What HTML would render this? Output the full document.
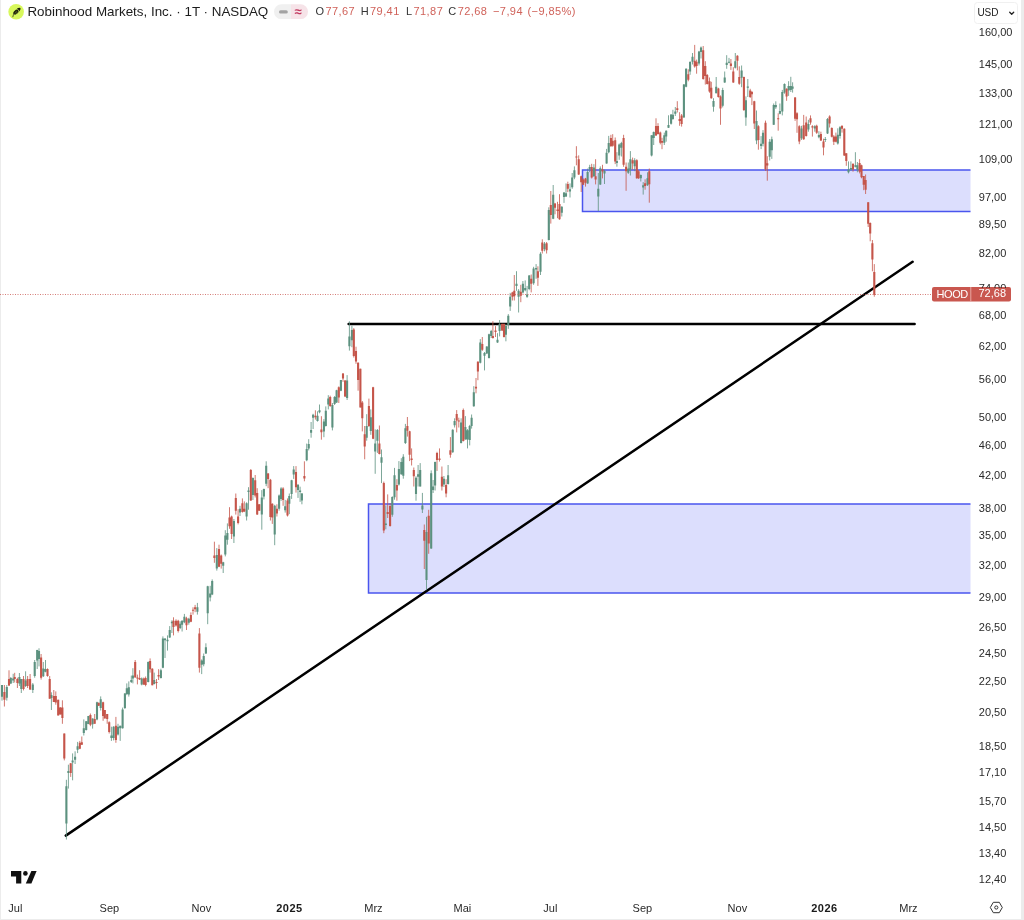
<!DOCTYPE html>
<html lang="de">
<head>
<meta charset="utf-8">
<title>Robinhood Markets, Inc. · 1T · NASDAQ</title>
<style>
html,body{margin:0;padding:0;background:#fff;}
body{width:1024px;height:920px;position:relative;overflow:hidden;font-family:"Liberation Sans",sans-serif;color:#1a1a1a;}
.frame{position:absolute;background:#ececec;}
.t{position:absolute;white-space:nowrap;line-height:1;}
.title{font-size:13.4px;left:27.4px;top:5.4px;color:#1c1c1c;}
.ohlc{font-size:11px;top:6.4px;color:#333;letter-spacing:0.42px;}
.red{color:#d0625a;}
.pl{font-size:11px;color:#2a2a2a;left:978.8px;}
.tl{font-size:11px;color:#2a2a2a;top:903.3px;transform:translateX(-50%);}
.tl.b{font-weight:bold;color:#1a1a1a;letter-spacing:0.45px;}
svg{position:absolute;left:0;top:0;}
</style>
</head>
<body>

<div class="frame" style="left:0;top:0;width:1px;height:920px"></div>
<div class="frame" style="left:1021.4px;top:0;width:2.6px;height:920px"></div>
<div class="frame" style="left:0;top:918.6px;width:1024px;height:1.4px"></div>
<svg width="1024" height="920" viewBox="0 0 1024 920">
<clipPath id="pane"><rect x="0" y="0" width="970.5" height="895"/></clipPath>
<g clip-path="url(#pane)">
<rect x="582.5" y="170" width="420" height="41.5" fill="rgba(70,82,245,0.19)" stroke="#4a55ee" stroke-width="1.5"/>
<rect x="368.5" y="504" width="640" height="89" fill="rgba(70,82,245,0.19)" stroke="#4a55ee" stroke-width="1.5"/>
</g>
<line x1="348.6" y1="324" x2="914.6" y2="324" stroke="#000" stroke-width="2.5" stroke-linecap="round"/>
<line x1="65.8" y1="835.6" x2="912.6" y2="261.8" stroke="#000" stroke-width="2.5" stroke-linecap="round"/>
<g fill="none">
<path d="M2.0 685.0V700.6M6.8 685.0V700.6M10.8 677.0V684.0M13.2 673.8V683.0M19.4 673.0V686.0M21.3 679.0V693.0M25.6 671.3V687.0M32.8 683.0V693.0M34.7 660.0V677.7M37.2 649.8V669.0M39.0 648.3V666.4M43.3 662.0V677.0M45.5 660.0V672.3M51.4 692.3V710.0M66.4 779.8V839.5M68.4 764.7V788.6M72.6 753.4V780.3M75.1 751.3V764.0M77.6 741.9V753.1M83.8 719.4V735.5M86.2 721.0V730.5M88.4 715.9V724.2M92.6 718.4V728.6M97.0 701.7V720.3M100.7 696.4V710.5M111.4 726.7V740.9M113.6 726.2V740.4M118.0 723.8V735.5M120.2 725.7V740.9M122.6 707.6V728.6M124.9 693.0V709.0M126.8 683.4V695.1M128.8 681.4V696.6M131.3 675.6V683.0M132.9 668.2V683.4M141.7 677.5V685.3M148.2 661.4V682.4M154.2 672.6V684.4M160.9 668.7V678.5M162.9 636.4V668.2M165.0 638.4V658.0M167.5 635.4V650.6M169.7 626.1V637.9M171.9 620.3V633.0M180.2 621.3V629.1M182.1 620.3V631.5M184.4 613.9V623.2M188.8 617.8V624.7M197.4 602.9V614.6M201.7 659.4V674.1M203.7 653.5V666.3M205.9 643.3V654.0M207.7 585.8V624.2M210.2 585.8V601.4M212.2 579.4V595.1M216.8 548.1V570.6M223.2 561.8V573.0M225.3 530.2V556.4M227.4 523.4V544.7M233.9 519.0V543.0M240.0 505.8V516.0M246.6 502.3V520.5M248.5 487.2V509.7M252.9 477.4V500.0M261.8 490.1V529.7M263.9 488.6V499.4M266.2 461.3V486.2M274.7 504.8V545.2M279.1 494.5V510.7M281.1 487.2V500.9M285.2 499.9V512.6M289.3 493.5V514.1M291.6 479.8V498.9M293.7 466.1V478.9M298.0 484.2V497.9M300.1 486.7V501.9M301.9 493.0V504.3M306.7 443.6V461.2M308.7 439.2V450.4M311.1 422.0V437.7M313.1 413.8V429.0M317.5 411.3V421.6M319.5 404.5V413.3M323.9 419.1V437.2M325.8 406.4V426.5M328.3 395.2V409.4M332.4 403.0V430.4M334.6 396.1V405.0M336.6 389.8V403.0M340.9 380.0V391.2M347.1 375.1V400.0M349.4 321.3V350.6M351.9 325.7V347.2M366.7 414.2V440.7M370.8 409.4V434.8M375.2 429.4V473.8M377.4 429.0V452.9M381.5 449.5V483.1M385.8 505.4V529.3M392.3 496.3V516.8M394.5 467.9V499.7M398.9 461.1V485.6M401.3 458.2V474.8M403.3 454.2V478.7M405.4 423.9V444.0M416.0 476.3V500.7M418.1 465.0V486.5M420.2 463.1V486.5M422.4 492.9V513.0M426.5 516.8V590.2M431.2 470.4V548.9M433.1 480.0V493.0M435.1 461.6V490.5M443.9 476.0V487.0M448.1 465.0V484.6M452.7 429.3V452.8M454.6 418.3V427.5M461.1 418.3V443.5M465.4 416.1V439.6M467.5 429.1V448.4M469.7 424.9V445.4M471.6 414.5V428.6M473.8 386.2V406.8M480.3 339.1V363.4M484.5 352.0V370.4M486.8 346.2V354.1M489.0 333.7V358.5M491.2 329.9V338.0M497.5 333.2V342.9M499.6 320.1V336.4M505.9 323.9V341.3M508.3 314.1V328.8M510.2 292.9V310.9M516.5 271.2V290.8M518.6 289.1V312.5M522.9 281.0V293.5M525.2 280.4V291.3M527.1 285.9V297.8M529.2 275.0V290.2M533.6 266.8V284.8M536.1 264.1V278.8M540.5 252.2V275.0M544.5 242.0V251.3M548.8 207.3V240.4M553.2 185.0V219.2M561.8 206.2V216.5M564.0 192.1V202.9M566.0 183.4V197.0M570.0 183.4V197.5M572.2 173.0V188.8M574.4 166.4V179.2M587.6 168.6V183.8M589.7 164.8V172.2M593.9 164.2V176.8M598.3 173.0V211.1M600.3 166.4V185.0M604.5 169.7V184.0M606.6 148.9V163.7M608.7 135.9V153.3M616.9 152.2V166.7M619.2 143.5V159.8M621.4 141.8V156.5M628.3 162.5V173.9M630.4 151.1V175.5M634.7 158.2V171.2M640.8 174.5V181.5M643.2 182.1V194.6M647.5 172.3V185.9M651.6 135.2V156.4M653.7 131.5V145.0M664.3 132.6V145.0M666.2 130.3V141.7M668.5 115.3V128.0M671.1 114.2V124.6M672.9 109.8V119.8M675.3 107.0V116.0M683.9 84.0V117.7M686.1 68.3V87.3M690.1 61.2V74.8M692.5 53.0V64.5M699.0 50.9V65.5M701.0 46.5V58.5M713.5 98.2V111.7M716.2 77.0V93.3M722.7 87.8V107.4M724.7 71.5V82.9M726.7 55.2V68.8M729.0 57.9V63.4M735.3 53.0V68.5M741.6 65.5V87.2M745.9 96.4V125.8M747.8 79.0V97.0M756.5 110.5V144.2M761.1 136.1V149.1M763.0 130.1V146.4M769.7 139.0V160.5M771.8 136.6V158.9M773.7 103.5V125.0M775.8 101.3V108.9M779.9 103.5V114.3M782.3 89.9V115.4M784.5 83.4V93.7M788.6 81.2V95.9M790.8 76.8V92.0M792.6 82.3V92.6M801.5 125.8V139.9M808.4 119.8V131.7M814.8 125.2V131.7M818.9 131.2V138.3M825.3 137.0V142.0M827.5 118.0V134.0M837.8 128.3V144.6M840.0 126.1V138.6M848.5 161.4V173.4M850.9 161.4V170.7M855.4 152.2V167.4M857.4 162.0V172.3" stroke="#5c917f" stroke-width="0.8"/>
<path d="M4.4 685.0V706.5M9.0 670.3V686.0M14.7 672.8V682.5M17.4 677.7V688.0M23.5 676.0V690.4M27.6 676.0V688.0M30.1 674.0V690.0M41.1 654.0V679.6M47.5 668.4V676.7M49.7 676.0V698.7M53.8 690.0V702.0M55.8 691.4V704.7M58.2 699.7V715.4M60.3 707.0V714.5M62.4 700.3V723.8M64.3 733.5V760.4M70.7 763.2V776.9M79.8 740.9V749.2M81.8 736.5V744.8M90.4 713.5V726.2M94.7 714.0V723.8M98.7 702.7V706.0M103.1 701.7V720.8M104.8 710.0V718.4M107.2 714.0V723.8M109.2 721.3V733.5M115.9 716.9V742.8M135.2 660.0V677.5M137.4 674.6V684.4M139.6 670.2V680.0M143.8 677.5V685.0M145.6 676.5V686.3M150.1 658.4V672.6M152.3 668.2V685.3M156.5 679.0V688.8M158.6 669.2V680.0M173.5 617.3V635.4M176.0 619.3V626.6M178.2 619.8V632.5M186.5 616.8V630.0M190.9 612.4V622.2M193.0 607.3V614.6M195.1 604.9V612.2M199.4 628.1V672.6M214.4 541.7V562.8M219.0 544.7V567.2M221.2 554.5V568.6M229.5 507.2V528.8M231.6 515.6V539.0M235.8 493.5V514.6M238.1 509.2V524.4M242.4 498.4V512.6M244.3 501.4V512.1M250.8 469.0V500.9M255.2 475.0V497.5M257.2 488.2V515.0M259.3 504.3V510.7M268.1 473.0V488.2M270.4 478.9V520.5M272.3 503.3V523.9M276.9 504.3V516.5M283.1 487.2V505.8M287.5 498.4V516.5M296.0 466.1V492.6M304.4 461.3V481.3M315.4 410.3V419.6M321.4 416.2V439.7M330.2 395.7V406.9M338.8 386.4V403.0M343.0 373.1V381.9M345.1 380.0V397.1M353.8 328.1V357.5M356.0 346.7V363.8M358.1 362.3V390.7M360.4 368.7V407.4M362.3 401.0V431.4M364.7 426.0V459.3M368.9 398.6V427.0M373.1 386.8V439.2M379.4 425.5V454.4M383.8 481.6V533.2M387.7 494.4V518.0M390.1 503.0V526.6M396.9 479.2V500.7M407.4 417.0V436.6M409.6 430.8V461.1M411.6 448.4V465.5M413.8 467.5V486.5M424.3 524.5V569.0M428.7 509.8V553.8M437.0 451.8V470.9M439.5 448.4V461.6M441.9 466.5V490.5M446.1 479.2V497.3M450.4 437.1V457.7M456.7 410.1V432.4M458.8 417.7V427.5M463.3 408.5V441.5M476.0 378.0V393.3M477.9 361.2V380.2M482.3 337.0V350.9M492.9 321.2V338.6M495.5 326.1V337.0M502.1 323.4V331.0M504.0 323.4V337.5M512.4 291.8V300.5M514.3 275.0V300.5M520.8 284.8V302.2M531.2 274.5V292.4M537.9 266.3V285.9M542.3 239.3V253.5M546.6 242.0V253.5M550.8 191.0V223.6M555.0 202.9V214.3M557.5 201.8V218.2M559.5 194.2V219.8M567.8 181.7V192.1M576.4 146.2V165.3M578.7 155.4V175.0M581.2 175.6V192.0M583.2 178.3V185.0M585.5 177.9V186.6M591.7 163.8V178.5M595.6 159.2V184.4M602.5 164.8V178.4M610.9 134.8V146.7M612.7 134.2V146.7M615.2 137.5V164.1M623.6 134.8V166.8M626.1 162.5V190.8M632.6 157.6V169.6M636.8 159.2V178.8M638.6 170.0V179.0M645.1 179.3V189.7M649.3 168.5V202.7M656.0 118.3V135.9M658.0 123.2V134.6M660.3 131.6V144.4M662.0 137.8V149.2M677.3 101.2V112.5M679.6 112.2V125.8M681.6 114.0V126.6M688.3 69.3V81.3M694.7 44.9V67.7M696.6 59.6V73.7M703.2 46.0V79.7M705.3 61.2V84.6M707.2 74.0V84.5M709.5 77.5V92.7M711.3 81.8V98.7M718.4 87.8V97.6M720.5 95.4V124.8M730.9 59.0V69.9M733.3 67.2V82.9M737.4 55.2V70.4M739.3 66.3V84.8M743.9 76.6V111.0M750.2 88.8V98.0M751.9 91.0V105.1M754.3 100.8V129.0M758.4 125.2V149.7M765.5 120.6V170.9M767.3 156.2V180.7M778.2 113.3V130.7M786.6 88.3V100.8M795.1 97.0V120.9M797.0 112.2V132.8M799.3 125.2V144.2M803.7 114.9V139.9M806.2 116.5V136.6M810.5 115.4V124.7M812.4 125.2V136.6M816.7 124.7V133.9M820.9 131.7V141.0M823.5 138.7V155.3M829.6 115.3V127.5M831.8 127.3V137.4M833.8 135.1V145.0M835.9 132.6V142.4M842.0 125.0V132.6M844.3 128.3V156.0M846.3 153.3V165.8M853.0 163.0V171.7M859.6 159.2V173.4M861.5 164.7V178.3M863.7 176.1V190.2M865.6 174.5V194.0M868.2 202.2V227.0M870.2 222.4V241.3M872.4 240.0V271.3M874.3 264.1V296.7" stroke="#c5554a" stroke-width="0.8"/>
<path d="M2.0 685.0V696.7M6.8 687.0V697.7M10.8 678.0V683.5M13.2 678.6V680.6M19.4 677.0V683.5M21.3 679.0V689.0M25.6 680.6V686.0M32.8 684.5V690.0M34.7 662.0V676.0M37.2 650.0V660.5M39.0 651.0V659.0M43.3 668.4V676.2M45.5 668.9V671.8M51.4 695.0V698.0M66.4 786.2V823.4M68.4 771.0V773.0M72.6 760.5V762.5M75.1 756.8V759.8M77.6 746.3V749.7M83.8 728.2V733.0M86.2 721.3V730.1M88.4 716.0V724.0M92.6 718.4V724.2M97.0 702.2V719.4M100.7 699.3V708.1M111.4 735.5V738.0M113.6 726.7V738.0M118.0 726.7V734.5M120.2 725.7V728.2M122.6 709.6V728.2M124.9 693.4V708.1M126.8 688.3V694.1M128.8 687.3V694.6M131.3 680.0V682.0M132.9 675.6V678.5M141.7 678.5V684.4M148.2 661.9V681.9M154.2 680.0V683.9M160.9 670.2V678.0M162.9 638.4V667.7M165.0 638.4V640.3M167.5 639.8V641.3M169.7 630.0V637.4M171.9 621.7V623.2M180.2 623.7V628.1M182.1 620.8V624.7M184.4 616.8V622.2M188.8 618.8V622.7M197.4 607.3V611.7M201.7 660.4V664.8M203.7 656.0V664.3M205.9 647.2V653.5M207.7 586.3V613.2M210.2 593.6V597.5M212.2 580.9V594.6M216.8 555.0V568.6M223.2 562.3V565.7M225.3 535.4V554.5M227.4 533.0V539.8M233.9 521.0V536.6M240.0 508.7V512.6M246.6 503.3V516.5M248.5 490.6V492.1M252.9 477.9V495.0M261.8 497.5V514.6M263.9 489.1V496.5M266.2 465.7V483.8M274.7 505.8V534.6M279.1 495.5V508.7M281.1 488.6V498.9M285.2 506.3V510.2M289.3 496.0V503.8M291.6 480.3V494.0M293.7 469.6V474.5M298.0 484.7V490.1M300.1 490.6V492.1M301.9 493.5V500.4M306.7 449.0V460.2M308.7 444.0V448.5M311.1 430.0V432.8M313.1 414.7V417.7M317.5 415.7V421.0M319.5 410.3V412.3M323.9 421.6V431.4M325.8 410.8V426.0M328.3 398.6V404.5M332.4 405.0V427.5M334.6 397.0V404.0M336.6 390.3V402.5M340.9 380.0V390.7M347.1 380.4V398.0M349.4 336.4V346.2M351.9 330.0V340.3M366.7 426.0V437.7M370.8 417.2V430.9M375.2 443.6V451.4M377.4 430.0V440.7M381.5 457.3V462.7M385.8 523.4V525.0M392.3 497.0V514.7M394.5 475.3V497.3M398.9 468.9V484.6M401.3 462.0V474.3M403.3 456.7V475.8M405.4 428.3V443.0M416.0 477.7V493.9M418.1 474.3V476.8M420.2 469.9V486.5M422.4 505.6V509.4M426.5 532.0V579.9M431.2 473.3V548.4M433.1 486.5V490.0M435.1 462.0V485.6M443.9 478.7V484.6M448.1 475.3V484.1M452.7 429.8V452.3M454.6 421.0V425.3M461.1 422.6V443.0M465.4 427.0V439.6M467.5 430.3V439.6M469.7 426.0V440.0M471.6 417.7V425.9M473.8 392.2V406.3M480.3 342.4V362.8M484.5 353.0V355.8M486.8 346.5V353.6M489.0 334.2V358.0M491.2 331.0V335.9M497.5 339.7V342.4M499.6 323.9V331.0M505.9 326.0V334.8M508.3 315.8V325.0M510.2 296.7V306.5M516.5 283.7V285.9M518.6 290.8V296.7M522.9 283.7V292.4M525.2 288.0V290.2M527.1 294.6V296.7M529.2 275.5V289.1M533.6 268.5V283.2M536.1 267.9V269.6M540.5 253.8V271.7M544.5 243.7V249.1M548.8 210.0V239.9M553.2 194.8V218.7M561.8 206.7V212.7M564.0 192.6V197.0M566.0 193.2V196.4M570.0 189.3V191.5M572.2 177.4V187.2M574.4 170.3V177.4M587.6 172.0V183.4M589.7 167.0V169.2M593.9 167.6V176.3M598.3 188.8V196.4M600.3 168.2V184.5M604.5 170.9V173.6M606.6 152.7V163.6M608.7 142.9V152.2M616.9 160.9V163.0M619.2 144.6V155.4M621.4 142.9V147.8M628.3 168.5V172.8M630.4 159.2V169.6M634.7 160.3V166.3M640.8 175.0V178.3M643.2 185.3V187.5M647.5 178.3V185.3M651.6 135.3V155.4M653.7 132.0V138.0M664.3 135.2V142.7M666.2 130.7V136.5M668.5 125.1V127.7M671.1 114.5V123.7M672.9 114.7V118.9M675.3 111.4V113.7M683.9 84.5V117.5M686.1 68.8V86.8M690.1 62.0V71.5M692.5 56.8V61.7M699.0 51.4V63.4M701.0 47.6V52.0M713.5 100.9V106.8M716.2 86.7V93.3M722.7 90.0V105.8M724.7 77.5V82.4M726.7 62.8V65.0M729.0 61.7V62.8M735.3 61.2V67.7M741.6 70.6V77.7M745.9 100.2V117.6M747.8 86.6V87.7M756.5 120.9V140.4M761.1 143.7V145.9M763.0 132.8V143.7M769.7 141.8V156.7M771.8 139.3V150.2M773.7 105.1V124.7M775.8 105.1V107.3M779.9 111.1V113.8M782.3 92.0V111.6M784.5 83.9V92.6M788.6 86.0V90.4M790.8 86.0V89.9M792.6 86.6V88.8M801.5 128.5V138.3M808.4 124.1V129.6M814.8 126.3V128.5M818.9 135.0V137.2M825.3 139.0V140.0M827.5 119.1V133.5M837.8 134.8V143.5M840.0 127.2V135.9M848.5 169.6V172.3M850.9 167.9V169.6M855.4 165.2V166.8M857.4 165.2V169.6" stroke="#5c917f" stroke-width="2.1"/>
<path d="M4.4 692.0V699.7M9.0 679.0V685.5M14.7 677.0V679.0M17.4 679.0V683.0M23.5 679.0V689.0M27.6 679.0V686.0M30.1 679.0V689.4M41.1 657.6V677.7M47.5 669.0V676.0M49.7 679.0V698.7M53.8 696.0V702.0M55.8 696.0V702.5M58.2 699.8V715.4M60.3 707.6V714.5M62.4 707.6V717.9M64.3 733.5V758.5M70.7 763.2V773.0M79.8 742.8V748.7M81.8 742.3V744.8M90.4 715.0V724.7M94.7 718.9V723.8M98.7 702.7V705.7M103.1 702.2V716.0M104.8 710.0V718.4M107.2 714.0V718.9M109.2 722.3V732.0M115.9 725.7V739.9M135.2 661.9V677.5M137.4 677.5V678.5M139.6 678.0V679.5M143.8 678.5V684.4M145.6 678.0V684.9M150.1 660.9V669.2M152.3 668.7V685.3M156.5 681.9V682.9M158.6 675.0V676.5M173.5 620.8V627.1M176.0 620.8V625.6M178.2 620.8V631.0M186.5 618.3V625.2M190.9 614.9V621.7M193.0 609.7V610.7M195.1 607.3V609.2M199.4 633.5V667.7M214.4 555.4V557.9M219.0 549.0V566.7M221.2 555.4V563.8M229.5 517.5V526.3M231.6 516.5V534.1M235.8 498.0V510.7M238.1 516.5V522.9M242.4 503.3V512.1M244.3 508.7V511.6M250.8 470.0V500.4M255.2 480.3V495.5M257.2 493.0V514.6M259.3 504.3V510.7M268.1 473.5V478.9M270.4 479.8V517.0M272.3 503.8V517.5M276.9 508.7V513.6M283.1 488.6V499.9M287.5 500.4V515.6M296.0 472.0V487.2M304.4 476.0V478.5M315.4 415.7V417.2M321.4 429.4V432.3M330.2 397.1V405.9M338.8 387.3V397.6M343.0 373.6V378.5M345.1 380.5V396.6M353.8 329.6V356.0M356.0 351.0V361.4M358.1 362.8V380.0M360.4 368.7V407.4M362.3 402.5V418.2M364.7 434.3V446.5M368.9 405.9V426.0M373.1 387.3V438.7M379.4 443.6V453.9M383.8 483.1V530.4M387.7 512.0V514.0M390.1 506.0V526.0M396.9 485.0V490.5M407.4 425.9V430.8M409.6 431.3V454.7M411.6 458.6V460.1M413.8 469.9V476.3M424.3 529.9V540.8M428.7 515.8V543.5M437.0 453.0V460.0M439.5 458.6V460.1M441.9 476.8V486.5M446.1 485.0V493.4M450.4 450.3V454.7M456.7 413.9V420.4M458.8 420.4V421.5M463.3 410.1V441.0M476.0 386.7V388.4M477.9 361.7V371.5M482.3 344.0V349.8M492.9 335.9V338.0M495.5 330.4V332.1M502.1 323.9V330.5M504.0 323.9V337.0M512.4 292.4V296.7M514.3 290.8V296.2M520.8 291.8V295.7M531.2 278.8V283.7M537.9 271.2V277.7M542.3 242.6V250.8M546.6 243.2V250.2M550.8 205.1V214.9M555.0 203.5V207.8M557.5 209.5V211.1M559.5 204.0V219.2M567.8 183.9V188.8M576.4 156.5V157.6M578.7 159.2V174.5M581.2 176.3V182.3M583.2 179.6V184.8M585.5 178.5V182.8M591.7 167.1V177.4M595.6 176.3V179.6M602.5 169.2V171.4M610.9 138.0V146.2M612.7 140.8V145.7M615.2 140.2V161.4M623.6 138.0V164.7M626.1 166.8V171.2M632.6 160.3V163.6M636.8 160.3V178.3M638.6 171.2V178.3M645.1 183.2V185.9M649.3 171.2V184.2M656.0 126.1V135.6M658.0 126.0V134.0M660.3 132.6V142.7M662.0 141.0V142.7M677.3 108.2V110.1M679.6 119.0V121.0M681.6 115.5V124.0M688.3 74.2V79.7M694.7 60.7V66.6M696.6 61.7V66.1M703.2 50.3V79.1M705.3 66.1V75.9M707.2 75.0V84.0M709.5 81.3V91.6M711.3 87.8V98.2M718.4 88.4V97.0M720.5 96.5V108.5M730.9 63.4V66.1M733.3 71.5V82.4M737.4 55.8V60.7M739.3 77.0V83.8M743.9 77.0V110.0M750.2 90.4V97.0M751.9 92.0V94.2M754.3 101.3V123.6M758.4 126.3V139.9M765.5 122.8V169.2M767.3 163.3V165.4M778.2 118.2V119.2M786.6 88.8V96.4M795.1 97.5V118.7M797.0 113.3V119.2M799.3 126.3V141.5M803.7 125.2V139.3M806.2 122.5V136.1M810.5 118.2V122.5M812.4 126.3V127.4M816.7 125.8V132.8M820.9 133.9V140.4M823.5 141.6V147.6M829.6 116.4V123.5M831.8 127.9V136.8M833.8 136.4V141.8M835.9 136.4V141.8M842.0 126.1V128.8M844.3 128.8V155.4M846.3 153.3V160.9M853.0 164.1V169.6M859.6 163.0V171.7M861.5 165.2V177.2M863.7 176.1V184.8M865.6 179.9V189.7M868.2 202.2V223.7M870.2 223.0V233.5M872.4 243.2V259.5M874.3 271.9V294.7" stroke="#c5554a" stroke-width="2.1"/>
</g>
<line x1="0" y1="294.5" x2="932" y2="294.5" stroke="#cc5d55" stroke-opacity="0.8" stroke-width="1" stroke-dasharray="1 1.5"/>
<rect x="932" y="287" width="79" height="14.5" rx="2" fill="#c9574f"/>
<line x1="970.8" y1="287" x2="970.8" y2="301.5" stroke="#f0bdb8" stroke-width="0.8"/>
<g fill="#111"><path d="M11 871h10.3v12.6h-5.2v-7.1H11z"/><circle cx="25.4" cy="873.4" r="2.3"/><path d="M31.4 871h5.2l-5.2 12.6h-5.6z"/></g>
<g fill="none" stroke="#333" stroke-width="1"><path d="M990.3 907.5l3-5.2h6l3 5.2l-3 5.2h-6z"/><circle cx="996.3" cy="907.5" r="1.6"/></g>
<circle cx="16.15" cy="11.75" r="7.8" fill="#d8f85c"/>
<g fill="#1b200b"><path d="M12.8 16.8Q13.2 14.2 14.6 12.4" fill="none" stroke="#1b200b" stroke-width="0.7" stroke-linecap="round"/><ellipse cx="15.95" cy="12.15" rx="2.95" ry="1.95" transform="rotate(-42 15.95 12.15)"/><path d="M16.9 8.8Q18.8 7.1 20.5 7.9Q20.9 9.8 19.2 11.5L18.7 10.1L17.7 9.4Z"/></g>
<path d="M14.9 13.5L16.7 11.1M16.2 13.8L17.7 11.9" fill="none" stroke="#d8f85c" stroke-width="0.3"/>
<path d="M281.4 4.3H291V19.1H281.4A7.4 7.4 0 0 1 281.4 4.3z" fill="#f0f0f0"/>
<path d="M291 4.3H300.6A7.4 7.4 0 0 1 300.6 19.1H291z" fill="#f6e3e8"/>
<rect x="279" y="10.3" width="8.8" height="3.2" rx="1.6" fill="#a3a3a3"/>
<rect x="974.5" y="2.5" width="43" height="21" rx="3" fill="#fff" stroke="#f0f0f0" stroke-width="1"/>
<path d="M1009.7 12.2l2 2l2-2" fill="none" stroke="#222" stroke-width="1.3" stroke-linecap="round" stroke-linejoin="round"/>
</svg>
<div class="t title">Robinhood Markets, Inc. · 1T · NASDAQ</div>
<div class="t" style="left:294.6px;top:5.2px;font-size:13px;color:#c23a60;font-weight:bold">≈</div>
<div class="t ohlc" style="left:315.5px">O<span class="red" style="margin-left:1px">77,67</span></div>
<div class="t ohlc" style="left:360.7px">H<span class="red" style="margin-left:1px">79,41</span></div>
<div class="t ohlc" style="left:406.0px">L<span class="red" style="margin-left:1px">71,87</span></div>
<div class="t ohlc" style="left:448.3px">C<span class="red" style="margin-left:1px">72,68</span></div>
<div class="t ohlc red" style="left:493px">−7,94</div>
<div class="t ohlc red" style="left:527.5px">(−9,85%)</div>
<div class="t" style="left:977.4px;top:7.7px;font-size:10px;color:#222">USD</div>
<div class="t pl" style="top:26.6px">160,00</div>
<div class="t pl" style="top:59.2px">145,00</div>
<div class="t pl" style="top:87.8px">133,00</div>
<div class="t pl" style="top:119.1px">121,00</div>
<div class="t pl" style="top:153.7px">109,00</div>
<div class="t pl" style="top:192.4px">97,00</div>
<div class="t pl" style="top:219.0px">89,50</div>
<div class="t pl" style="top:248.0px">82,00</div>
<div class="t pl" style="top:282.7px">74,00</div>
<div class="t pl" style="top:310.0px">68,00</div>
<div class="t pl" style="top:340.6px">62,00</div>
<div class="t pl" style="top:374.3px">56,00</div>
<div class="t pl" style="top:411.8px">50,00</div>
<div class="t pl" style="top:439.5px">46,00</div>
<div class="t pl" style="top:469.6px">42,00</div>
<div class="t pl" style="top:502.7px">38,00</div>
<div class="t pl" style="top:530.0px">35,00</div>
<div class="t pl" style="top:559.6px">32,00</div>
<div class="t pl" style="top:592.2px">29,00</div>
<div class="t pl" style="top:622.1px">26,50</div>
<div class="t pl" style="top:648.1px">24,50</div>
<div class="t pl" style="top:676.3px">22,50</div>
<div class="t pl" style="top:707.1px">20,50</div>
<div class="t pl" style="top:741.1px">18,50</div>
<div class="t pl" style="top:767.2px">17,10</div>
<div class="t pl" style="top:795.5px">15,70</div>
<div class="t pl" style="top:821.8px">14,50</div>
<div class="t pl" style="top:847.9px">13,40</div>
<div class="t pl" style="top:873.6px">12,40</div>
<div class="t" style="left:936.6px;top:289px;font-size:11px;letter-spacing:-0.45px;color:#fff">HOOD</div>
<div class="t" style="left:978.5px;top:288.2px;font-size:11px;color:#fff;background:#c9574f;padding:0 1px 0 0">72,68</div>
<div class="t tl" style="left:15.4px">Jul</div>
<div class="t tl" style="left:109.4px">Sep</div>
<div class="t tl" style="left:201.4px">Nov</div>
<div class="t tl b" style="left:289.4px">2025</div>
<div class="t tl" style="left:373.4px">Mrz</div>
<div class="t tl" style="left:462.4px">Mai</div>
<div class="t tl" style="left:550.4px">Jul</div>
<div class="t tl" style="left:642.4px">Sep</div>
<div class="t tl" style="left:737.4px">Nov</div>
<div class="t tl b" style="left:824.4px">2026</div>
<div class="t tl" style="left:908.4px">Mrz</div>
</body>
</html>
